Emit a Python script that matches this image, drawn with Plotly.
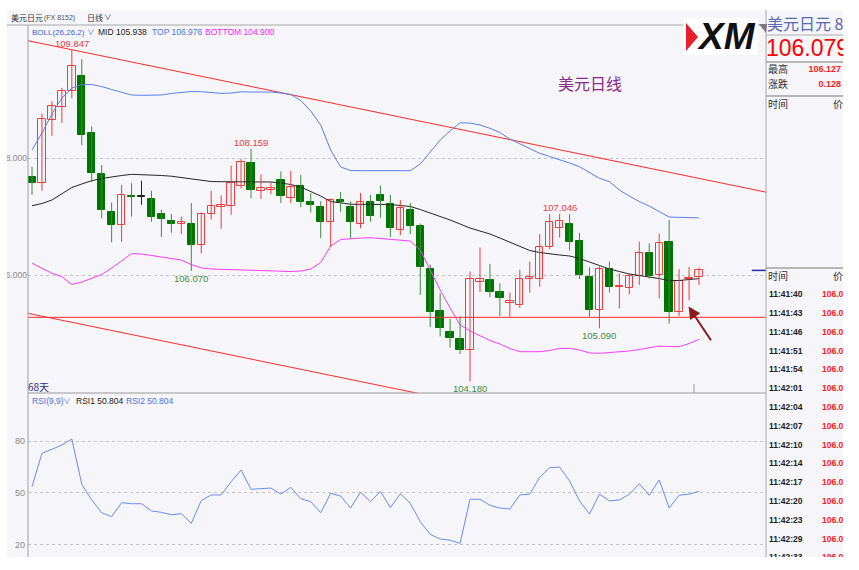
import plotly.graph_objects as go

W, H = 859, 570

# ---------------- data ----------------
candle_open = [107.68, 107.58, 108.65, 108.88, 109.14, 109.41, 108.42, 107.73, 107.08, 106.85,
               107.35, 107.34, 107.30, 107.04, 106.93, 106.87, 106.87, 106.51, 107.04, 107.17,
               107.18, 107.53, 107.91, 107.44, 107.46, 107.62, 107.31, 107.52, 107.24, 107.17,
               106.90, 107.28, 107.16, 106.88, 107.24, 107.36, 107.21, 106.77, 107.11, 106.84,
               106.10, 105.38, 105.02, 104.91, 104.71, 105.88, 105.91, 105.71, 105.52, 105.49,
               105.93, 105.93, 106.48, 106.81, 106.87, 106.58, 105.96, 105.40, 106.11, 105.79,
               105.77, 105.98, 106.37, 106.00, 106.56, 105.37, 105.93, 105.96]
candle_high = [107.85, 108.76, 108.97, 109.20, 109.847, 109.69, 108.54, 107.88, 107.24, 107.54,
               107.57, 107.61, 107.44, 107.12, 107.04, 107.00, 107.23, 107.07, 107.44, 107.36,
               107.87, 107.98, 108.159, 107.72, 107.58, 107.77, 107.78, 107.71, 107.40, 107.26,
               107.31, 107.42, 107.26, 107.40, 107.37, 107.53, 107.37, 107.28, 107.23, 106.88,
               106.18, 105.69, 105.25, 105.29, 106.06, 106.47, 106.19, 105.86, 105.70, 106.09,
               106.23, 106.70, 107.04, 107.046, 107.04, 106.72, 106.13, 106.17, 106.23, 106.03,
               106.03, 106.57, 106.54, 106.71, 106.94, 106.10, 106.14, 106.127]
candle_low = [107.37, 107.44, 108.38, 108.60, 109.02, 108.22, 107.59, 106.97, 106.56, 106.57,
              107.00, 107.20, 106.91, 106.65, 106.72, 106.70, 106.070, 106.37, 106.95, 106.79,
              107.03, 107.48, 107.31, 107.30, 107.38, 107.23, 107.23, 107.16, 107.07, 106.63,
              106.48, 107.08, 106.63, 106.80, 106.91, 106.98, 106.65, 106.68, 106.70, 105.66,
              105.11, 104.95, 104.76, 104.65, 104.180, 105.71, 105.62, 105.30, 105.29, 105.44,
              105.70, 105.80, 106.44, 106.64, 106.42, 105.93, 105.29, 105.090, 105.70, 105.43,
              105.67, 105.83, 105.94, 105.60, 105.17, 105.30, 105.57, 105.83]
candle_close = [107.58, 108.66, 108.89, 109.15, 109.58, 108.40, 107.74, 107.12, 106.85, 107.37,
                107.33, 107.34, 107.00, 106.96, 106.87, 106.90, 106.52, 107.04, 107.18, 107.19,
                107.57, 107.93, 107.45, 107.48, 107.49, 107.35, 107.50, 107.24, 107.20, 106.90,
                107.28, 107.24, 106.91, 107.25, 107.01, 107.27, 106.80, 107.15, 106.84, 106.13,
                105.37, 105.09, 104.93, 104.72, 105.93, 105.94, 105.71, 105.60, 105.55, 105.93,
                105.96, 106.48, 106.90, 106.93, 106.57, 106.00, 105.41, 106.11, 105.80, 105.82,
                105.98, 106.38, 105.98, 106.55, 105.36, 105.90, 105.95, 106.079]

boll_top = [108.137, 108.427, 108.752, 109.026, 109.197, 109.256, 109.256, 109.222, 109.171, 109.120,
            109.077, 109.072, 109.072, 109.077, 109.103, 109.120, 109.137, 109.133, 109.120, 109.106,
            109.111, 109.133, 109.128, 109.128, 109.128, 109.111, 109.085, 108.983, 108.803, 108.564,
            108.137, 107.846, 107.786, 107.783, 107.783, 107.783, 107.783, 107.783, 107.783, 107.897,
            108.103, 108.308, 108.462, 108.603, 108.598, 108.564, 108.508, 108.436, 108.325, 108.239,
            108.162, 108.080, 108.026, 107.974, 107.915, 107.851, 107.752, 107.653, 107.595, 107.453,
            107.350, 107.256, 107.179, 107.082, 106.991, 106.986, 106.980, 106.976]
boll_mid = [107.185, 107.222, 107.282, 107.385, 107.496, 107.556, 107.612, 107.650, 107.680, 107.701,
            107.721, 107.718, 107.709, 107.701, 107.689, 107.667, 107.641, 107.615, 107.598, 107.595,
            107.595, 107.595, 107.595, 107.602, 107.590, 107.573, 107.547, 107.504, 107.427, 107.350,
            107.256, 107.231, 107.210, 107.209, 107.209, 107.209, 107.205, 107.188, 107.171, 107.120,
            107.060, 107.009, 106.940, 106.872, 106.803, 106.752, 106.701, 106.632, 106.564, 106.487,
            106.419, 106.385, 106.359, 106.342, 106.325, 106.282, 106.222, 106.162, 106.103, 106.060,
            106.017, 105.991, 105.966, 105.940, 105.903, 105.906, 105.923, 105.938]
boll_bottom = [106.200, 106.111, 106.029, 105.971, 105.838, 105.880, 105.944, 106.009, 106.120, 106.239,
               106.364, 106.359, 106.333, 106.308, 106.274, 106.256, 106.179, 106.120, 106.103, 106.097,
               106.091, 106.085, 106.080, 106.077, 106.068, 106.060, 106.060, 106.068, 106.103, 106.214,
               106.496, 106.607, 106.624, 106.632, 106.638, 106.624, 106.598, 106.590, 106.581, 106.427,
               106.085, 105.744, 105.436, 105.145, 105.043, 104.957, 104.880, 104.821, 104.744, 104.689,
               104.689, 104.689, 104.709, 104.744, 104.747, 104.718, 104.667, 104.662, 104.675, 104.684,
               104.701, 104.726, 104.761, 104.786, 104.778, 104.774, 104.829, 104.900]

rsi_values = [53.5, 72.9, 75.2, 77.7, 81.2, 54.9, 45.8, 38.4, 36.1, 44.2,
              43.6, 43.6, 39.4, 38.6, 37.2, 37.8, 32.2, 45.4, 48.7, 48.7,
              56.4, 63.2, 52.0, 52.3, 52.7, 49.2, 53.1, 46.5, 44.8, 38.4,
              49.6, 48.1, 41.1, 50.2, 44.8, 50.8, 41.3, 49.4, 43.8, 33.2,
              25.8, 23.1, 22.4, 20.6, 46.2, 46.2, 42.7, 41.1, 40.5, 48.7,
              49.2, 58.9, 64.5, 64.9, 56.8, 45.2, 37.6, 49.2, 45.2, 45.8,
              49.1, 55.2, 48.5, 57.4, 41.1, 48.5, 49.2, 50.804]

price_tick_vals = [108, 106]
price_tick_text = ["108.000", "106.000"]
rsi_tick_vals = [80, 50, 20]
rsi_tick_text = ["80", "50", "20"]

high_label_candles = [5, 23, 54]
low_label_candles = [17, 45, 58]

trend_upper_x = [0.6, 74.8]
trend_upper_y = [110.005, 107.414]
trend_lower_x = [0.6, 74.8]
trend_lower_y = [105.345, 102.754]
support_level = 105.277

last_price = 106.079
day_high = 106.127
day_change = 0.128
tick_times = ["11:41:40", "11:41:43", "11:41:46", "11:41:51", "11:41:54", "11:42:01", "11:42:04",
              "11:42:07", "11:42:10", "11:42:14", "11:42:17", "11:42:20", "11:42:23", "11:42:29",
              "11:42:33"]
tick_prices = ["106.079"] * len(tick_times)

# ---------------- styling ----------------
BG = "#f5f5fa"
RED = "#f03c3c"
GREEN = "#007400"
GRID = "#c4c4c4"
BORDER = "#9c9c9c"
LAT = "Liberation Sans, Noto Sans CJK SC, sans-serif"
CJK = "Noto Sans CJK SC, sans-serif"


def px(x):
    return x / W


def py(y):
    return 1 - y / H


n = len(candle_open)
idx = list(range(1, n + 1))

fig = go.Figure()

# trend lines / support (under candles)
fig.add_trace(go.Scatter(x=trend_upper_x, y=trend_upper_y, mode="lines",
                         line=dict(color="#ff2a2a", width=1), xaxis="x", yaxis="y", hoverinfo="skip"))
fig.add_trace(go.Scatter(x=trend_lower_x, y=trend_lower_y, mode="lines",
                         line=dict(color="#ff2a2a", width=1), xaxis="x", yaxis="y", hoverinfo="skip"))
fig.add_trace(go.Scatter(x=[0.598, 74.73], y=[support_level, support_level], mode="lines",
                         line=dict(color="#ff2a2a", width=1), xaxis="x", yaxis="y", hoverinfo="skip"))

# Bollinger bands
fig.add_trace(go.Scatter(x=idx, y=boll_top, mode="lines", line=dict(color="#5b7fe6", width=1),
                         xaxis="x", yaxis="y", hoverinfo="skip"))
fig.add_trace(go.Scatter(x=idx, y=boll_mid, mode="lines", line=dict(color="#262626", width=1),
                         xaxis="x", yaxis="y", hoverinfo="skip"))
fig.add_trace(go.Scatter(x=idx, y=boll_bottom, mode="lines", line=dict(color="#ff3cff", width=1),
                         xaxis="x", yaxis="y", hoverinfo="skip"))

# wicks
groups = {"up": ([], []), "down": ([], []), "flat": ([], [])}
for i, o, h, l, c in zip(idx, candle_open, candle_high, candle_low, candle_close):
    key = "up" if c > o else ("down" if c < o else "flat")
    groups[key][0].extend([i, i, None])
    groups[key][1].extend([l, h, None])
for key, col in (("up", RED), ("down", "#3a8f3a"), ("flat", "#222222")):
    fig.add_trace(go.Scatter(x=groups[key][0], y=groups[key][1], mode="lines",
                             line=dict(color=col, width=1), xaxis="x", yaxis="y", hoverinfo="skip"))

# bodies
body_base = [min(o, c) for o, c in zip(candle_open, candle_close)]
body_h = [max(abs(c - o), 0.014) for o, c in zip(candle_open, candle_close)]
fill_col = [BG if c > o else (GREEN if c < o else "#222222") for o, c in zip(candle_open, candle_close)]
edge_col = [RED if c > o else (GREEN if c < o else "#222222") for o, c in zip(candle_open, candle_close)]
fig.add_trace(go.Bar(x=idx, y=body_h, base=body_base, width=0.74,
                     marker=dict(color=fill_col, line=dict(color=edge_col, width=1)),
                     xaxis="x", yaxis="y", hoverinfo="skip"))

# current price marker
fig.add_trace(go.Scatter(x=[73.3, 74.8], y=[last_price, last_price], mode="lines",
                         line=dict(color="#2a2aa8", width=1.5), xaxis="x", yaxis="y", hoverinfo="skip"))

# RSI
fig.add_trace(go.Scatter(x=idx, y=rsi_values, mode="lines", line=dict(color="#6a8cf0", width=1),
                         xaxis="x2", yaxis="y2", hoverinfo="skip"))


# right info panel as clipped text subplot
def panel_text(x, y, text, size, color, pos="middle right", family=LAT, bold=False):
    t = f"<b>{text}</b>" if bold else text
    fig.add_trace(go.Scatter(x=[x], y=[y], mode="text", text=[t], textposition=pos,
                             textfont=dict(size=size, color=color, family=family),
                             xaxis="x3", yaxis="y3", cliponaxis=True, hoverinfo="skip"))


panel_text(767, 26, "美元日元 8152", 16, "#5a68b0", family=CJK)
panel_text(766, 50, f"{last_price:.3f}", 23, "#ff0000")
panel_text(768, 70, "最高", 10, "#333333", family=CJK)
panel_text(841, 70, f"{day_high:.3f}", 9, "#ff2020", pos="middle left", bold=True)
panel_text(768, 85, "涨跌", 10, "#333333", family=CJK)
panel_text(841, 85, f"{day_change:.3f}", 9, "#ff2020", pos="middle left", bold=True)
panel_text(768, 105, "时间", 10, "#333333", family=CJK)
panel_text(833, 105, "价", 10, "#333333", family=CJK)
panel_text(768, 277, "时间", 10, "#333333", family=CJK)
panel_text(833, 277, "价", 10, "#333333", family=CJK)
row_y = [295 + k * 18.8 for k in range(len(tick_times))]
fig.add_trace(go.Scatter(x=[769] * len(tick_times), y=row_y, mode="text",
                         text=[f"<b>{t}</b>" for t in tick_times], textposition="middle right",
                         textfont=dict(size=8.5, color="#222222", family=LAT),
                         xaxis="x3", yaxis="y3", cliponaxis=True, hoverinfo="skip"))
fig.add_trace(go.Scatter(x=[822] * len(tick_prices), y=row_y, mode="text",
                         text=[f"<b>{p}</b>" for p in tick_prices], textposition="middle right",
                         textfont=dict(size=8.5, color="#ff2020", family=LAT),
                         xaxis="x3", yaxis="y3", cliponaxis=True, hoverinfo="skip"))

# ---------------- shapes ----------------
shapes = []
shapes.append(dict(type="rect", xref="paper", yref="paper", x0=px(7), x1=px(843), y0=py(557), y1=py(10),
                   fillcolor=BG, line=dict(width=0), layer="below"))


def hline(y, x0, x1, color=BORDER, width=1):
    shapes.append(dict(type="line", xref="paper", yref="paper", x0=px(x0), x1=px(x1), y0=py(y), y1=py(y),
                       line=dict(color=color, width=width), layer="above"))


def vline(x, y0, y1, color=BORDER, width=1):
    shapes.append(dict(type="line", xref="paper", yref="paper", x0=px(x), x1=px(x), y0=py(y0), y1=py(y1),
                       line=dict(color=color, width=width), layer="above"))


hline(25, 7, 766, "#a8a8a8")
vline(28, 25, 557, "#a0a0a0")
hline(393, 28, 766, "#9a9a9a")
vline(766, 10, 557, "#a8a8a8")
hline(35, 766, 843, "#b0b0b0")
hline(62, 766, 843, "#a0a0a0", 1.5)
hline(96, 766, 843, "#a0a0a0", 1.5)
hline(268, 766, 843, "#a0a0a0", 1.5)
vline(694, 384, 393, "#9a9a9a")
# mask for clipped tick labels on the far left
shapes.append(dict(type="rect", xref="paper", yref="paper", x0=0, x1=px(7), y0=0, y1=1,
                   fillcolor="white", line=dict(width=0), layer="above"))
# small menu triangle
shapes.append(dict(type="path", xref="paper", yref="paper",
                   path=f"M {px(759)},{py(24)} L {px(767)},{py(24)} L {px(766)},{py(33)} Z",
                   fillcolor="#7a7a7a", line=dict(width=0), layer="above"))
# XM logo
shapes.append(dict(type="rect", xref="paper", yref="paper", x0=px(683), x1=px(758), y0=py(55), y1=py(18),
                   fillcolor="white", line=dict(width=0), layer="above"))
shapes.append(dict(type="path", xref="paper", yref="paper",
                   path=f"M {px(686)},{py(23)} L {px(698)},{py(37)} L {px(686)},{py(51)} Z",
                   fillcolor="#e8202a", line=dict(width=0), layer="above"))

# ---------------- annotations ----------------
ann = []


def label(x, y, text, size, color, family=LAT, xanchor="left", yanchor="middle"):
    ann.append(dict(xref="paper", yref="paper", x=px(x), y=py(y), text=text, showarrow=False,
                    xanchor=xanchor, yanchor=yanchor, font=dict(size=size, color=color, family=family),
                    borderpad=0))


label(10, 18, "美元日元", 8, "#333333", CJK)
label(43, 18.5, "(FX 8152)", 7, "#555555", LAT)
label(86, 18, "日线", 8, "#333333", CJK)
label(103, 18, "∨", 7.5, "#333333", LAT)

label(31, 32.5, "BOLL(26,26,2)", 8, "#3f66d6")
label(86, 33, "∨", 7.5, "#3f66d6")
label(97, 32.5, f"MID {boll_mid[-1]:.3f}", 8.5, "#222222")
label(151, 32.5, f"TOP {boll_top[-1]:.3f}", 8.5, "#4a74e0")
label(204, 32.5, f"BOTTOM {boll_bottom[-1]:.3f}", 8.5, "#ff22ff")

label(31, 400.5, "RSI(9,9)", 8.5, "#4a74e0")
label(62, 401, "∨", 7.5, "#4a74e0")
label(75, 400.5, f"RSI1 {rsi_values[-1]:.3f}", 8.5, "#222222")
label(125, 400.5, f"RSI2 {rsi_values[-1]:.3f}", 8.5, "#4a74e0")

label(27, 386, "68天", 10, "#30308c", CJK)
label(590, 83, "美元日线", 16, "#8a2a8a", CJK, xanchor="center")
ann.append(dict(xref="paper", yref="paper", x=px(696), y=py(37), text="<b><i>XM</i></b>", showarrow=False,
                xanchor="left", yanchor="middle", font=dict(size=37, color="#111111", family="Liberation Sans"),
                borderpad=0))

for i in high_label_candles:
    ann.append(dict(xref="x", yref="y", x=i, y=candle_high[i - 1], text=f"{candle_high[i - 1]:.3f}",
                    showarrow=False, yanchor="bottom", yshift=0, borderpad=0,
                    font=dict(size=9.5, color="#e8403a", family=LAT)))
for i in low_label_candles:
    ann.append(dict(xref="x", yref="y", x=i, y=candle_low[i - 1], text=f"{candle_low[i - 1]:.3f}",
                    showarrow=False, yanchor="top", yshift=-1, borderpad=0,
                    font=dict(size=9.5, color="#3e8e3e", family=LAT)))

# arrow
ann.append(dict(xref="x", yref="y", x=66.95, y=105.46, axref="x", ayref="y", ax=69.3, ay=104.86,
                text="", showarrow=True, arrowhead=2, arrowsize=1.2, arrowwidth=2, arrowcolor="#8b1a1a"))

fig.update_layout(
    width=W, height=H, margin=dict(l=0, r=0, t=0, b=0),
    paper_bgcolor="white", plot_bgcolor=BG, showlegend=False, template="none",
    shapes=shapes, annotations=ann, bargap=0,
    xaxis=dict(domain=[px(28), px(766)], range=[0.598, 74.73], visible=False, anchor="y",
               fixedrange=True),
    yaxis=dict(domain=[py(393), py(25)], range=[103.983, 110.274], anchor="x",
               tickvals=price_tick_vals, ticktext=price_tick_text, ticks="", showline=False,
               showgrid=True, gridcolor=GRID, griddash="dot", gridwidth=1, zeroline=False,
               tickfont=dict(size=8.5, color="#8a8a8a", family=LAT), ticklabelstandoff=0),
    xaxis2=dict(domain=[px(28), px(766)], range=[0.598, 74.73], visible=False, anchor="y2"),
    yaxis2=dict(domain=[py(557), py(393)], range=[12.66, 107.9], anchor="x2",
                tickvals=rsi_tick_vals, ticktext=rsi_tick_text, ticks="", showline=False,
                showgrid=True, gridcolor=GRID, griddash="dot", gridwidth=1, zeroline=False,
                tickfont=dict(size=9, color="#8a8a8a", family=LAT), ticklabelstandoff=2),
    xaxis3=dict(domain=[px(766), px(843)], range=[766, 843], visible=False, anchor="y3"),
    yaxis3=dict(domain=[py(557), py(10)], range=[557, 10], visible=False, anchor="x3"),
)

fig.write_html("out.html", config={"displayModeBar": False},
               post_script="document.body.style.margin='0px';document.body.style.overflow='hidden';")
